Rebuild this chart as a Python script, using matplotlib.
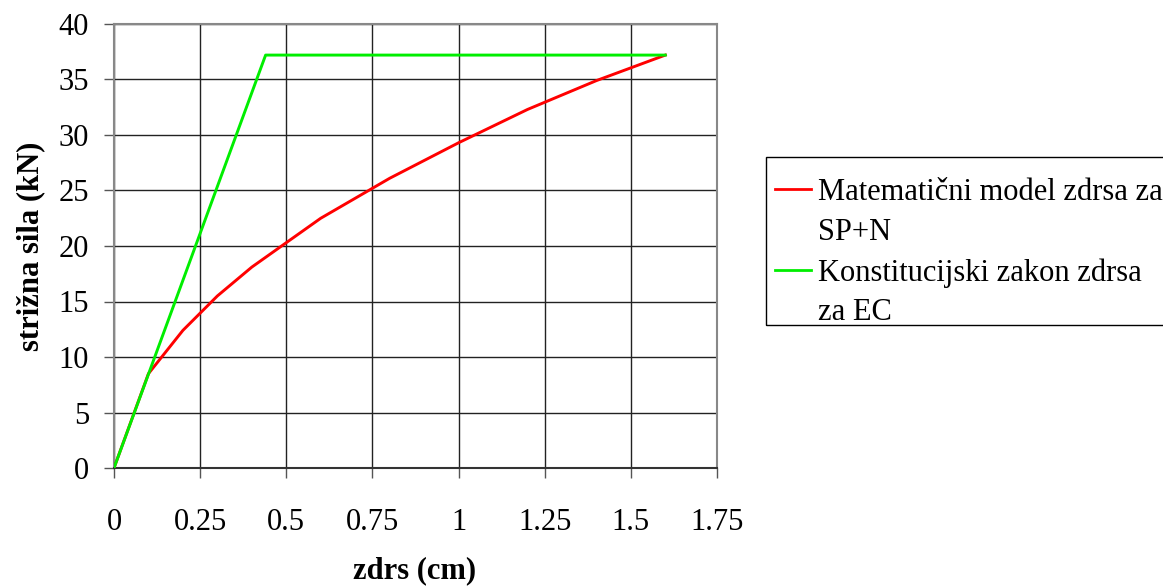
#!/usr/bin/env python3

import numpy as np
import matplotlib.pyplot as plt
from matplotlib.lines import Line2D
from matplotlib.patches import Rectangle

plt.rcParams['font.family'] = ['Liberation Serif', 'DejaVu Serif']

# Data
zdrs_model = [0, 0.1, 0.2, 0.3, 0.4, 0.6, 0.8, 1.0, 1.2, 1.4, 1.6]
sila_model = [0, 8.5, 12.4, 15.5, 18.1, 22.5, 26.1, 29.3, 32.3, 34.9, 37.2]

zdrs_ec = [0, 0.44, 1.6]
sila_ec = [0, 37.2, 37.2]

label_model = ['Matematični model zdrsa za', 'SP+N']
label_ec = ['Konstitucijski zakon zdrsa', 'za EC']

xticks = [0, 0.25, 0.5, 0.75, 1, 1.25, 1.5, 1.75]
xticklabels = ['0', '0.25', '0.5', '0.75', '1', '1.25', '1.5', '1.75']
yticks = [0, 5, 10, 15, 20, 25, 30, 35, 40]

RED = '#ff0000'
GREEN = '#00ee00'
FS = 22

W, H = 1163, 588
fig = plt.figure(figsize=(W / 100, H / 100), dpi=100)
ax = fig.add_axes([114 / W, 1 - 468 / H, (717 - 114) / W, (468 - 24) / H])

ax.plot(zdrs_model, sila_model, color=RED, lw=2.1, zorder=3)
ax.plot(zdrs_ec, sila_ec, color=GREEN, lw=2.1, zorder=3)

ax.set_xlim(0, 1.75)
ax.set_ylim(0, 40)
ax.set_xticks(xticks)
ax.set_xticklabels(xticklabels)
ax.set_yticks(yticks)
ax.grid(True, color='#222222', lw=1)
ax.set_axisbelow(True)

for s in ax.spines.values():
    s.set_color('#888888')
    s.set_linewidth(1.5)
ax.spines['bottom'].set_color('#333333')

ax.tick_params(axis='both', labelsize=FS, length=7, width=1, color='#555555')
ax.tick_params(axis='x', pad=22)
ax.tick_params(axis='y', pad=11)

ax.set_xlabel('zdrs (cm)', fontsize=FS, fontweight='bold')
ax.set_ylabel('strižna sila (kN)', fontsize=FS, fontweight='bold')
ax.xaxis.set_label_coords((415 - 114) / 603, (468 - 571) / 444)
ax.yaxis.set_label_coords((31 - 114) / 603, 0.5)
ax.xaxis.label.set_va('center')
ax.yaxis.label.set_va('center')

# legend: each label is two lines, handle sits beside the first line
blank = Line2D([], [], color='none')
handles = [Line2D([], [], color=RED, lw=2), blank,
           Line2D([], [], color=GREEN, lw=2), blank]
labels = [label_model[0], label_model[1], label_ec[0], label_ec[1]]
leg = fig.legend(handles, labels, loc='upper left',
                 bbox_to_anchor=(775 / W, 1 - 178 / H), borderaxespad=0,
                 fontsize=FS, frameon=False, handlelength=1.18,
                 handletextpad=0.23, borderpad=0, labelspacing=0.36)

fig.add_artist(Rectangle((766 / W, 1 - 325 / H), (1170 - 766) / W, (325 - 157) / H,
                         transform=fig.transFigure, fill=False,
                         edgecolor='black', lw=1))

fig.savefig('out.png', dpi=100)
